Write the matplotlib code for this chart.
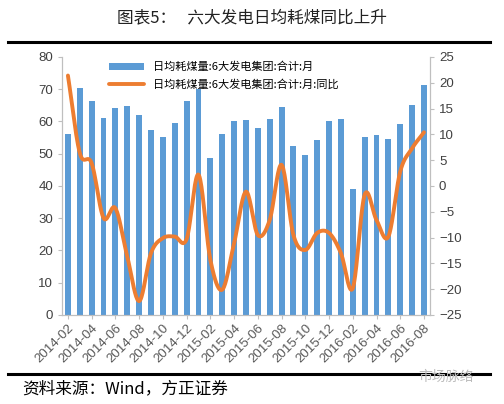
import matplotlib
matplotlib.use('Agg')
from matplotlib import pyplot as plt
import numpy as np

plt.rcParams['font.family'] = ['Noto Sans CJK SC', 'DejaVu Sans']

months = ['2014-02', '2014-03', '2014-04', '2014-05', '2014-06', '2014-07', '2014-08',
          '2014-09', '2014-10', '2014-11', '2014-12', '2015-01', '2015-02', '2015-03',
          '2015-04', '2015-05', '2015-06', '2015-07', '2015-08', '2015-09', '2015-10',
          '2015-11', '2015-12', '2016-01', '2016-02', '2016-03', '2016-04', '2016-05',
          '2016-06', '2016-07', '2016-08']
coal = [56.2, 70.5, 66.3, 61.0, 64.3, 64.7, 61.9, 57.4, 55.1, 59.5, 66.3, 70.0, 48.7,
        56.1, 60.0, 60.5, 58.1, 60.8, 64.6, 52.4, 49.5, 54.3, 60.2, 60.8, 39.2, 55.2,
        55.9, 54.6, 59.3, 65.1, 71.4]
yoy = [21.4, 6.4, 4.4, -6.2, -4.3, -13.7, -22.3, -13.0, -10.1, -9.8, -10.3, 2.2, -14.3,
       -20.1, -11.1, -1.1, -9.5, -6.6, 4.1, -9.5, -12.4, -9.1, -9.1, -13.0, -19.8, -1.7,
       -6.6, -9.8, 2.8, 7.3, 10.4]

label_bar = '日均耗煤量:6大发电集团:合计:月'
label_line = '日均耗煤量:6大发电集团:合计:月:同比'


def smooth(x, y, n=20):
    # catmull-rom curve through the points, just for drawing like excel
    x = np.asarray(x, float)
    y = np.asarray(y, float)
    px = np.concatenate([[2 * x[0] - x[1]], x, [2 * x[-1] - x[-2]]])
    py = np.concatenate([[2 * y[0] - y[1]], y, [2 * y[-1] - y[-2]]])
    xs, ys = [], []
    t = np.linspace(0, 1, n, endpoint=False)
    for i in range(1, len(px) - 2):
        for p, out in ((px, xs), (py, ys)):
            p0, p1, p2, p3 = p[i - 1], p[i], p[i + 1], p[i + 2]
            out.extend(0.5 * (2 * p1 + (-p0 + p2) * t + (2 * p0 - 5 * p1 + 4 * p2 - p3) * t ** 2
                              + (-p0 + 3 * p1 - 3 * p2 + p3) * t ** 3))
    xs.append(x[-1])
    ys.append(y[-1])
    return xs, ys


fig = plt.figure(figsize=(5.04, 4.04), dpi=100)
ax = fig.add_axes([0.123, 0.2203, 0.730, 0.6387])
ax2 = ax.twinx()

x = np.arange(len(months))
b = ax.bar(x, coal, width=0.5, color='#5B9BD5', label=label_bar, zorder=2)
sx, sy = smooth(x, yoy)
l, = ax2.plot(sx, sy, color='#ED7D31', lw=2.8, label=label_line, solid_capstyle='round')

ax.set_xlim(-0.5, len(months) - 0.5)
ax.set_ylim(0, 80)
ax.set_yticks(range(0, 81, 10))
ax2.set_ylim(-25, 25)
ax2.set_yticks(range(-25, 26, 5))
ax2.set_yticklabels([str(v).replace('-', '\u2212') for v in range(-25, 26, 5)])

ax.set_xticks(x[::2])
ax.set_xticklabels(months[::2], rotation=45, ha='right', rotation_mode='anchor')

gray = '#BFBFBF'
for a in (ax, ax2):
    a.spines['top'].set_visible(False)
    for s in ('left', 'right', 'bottom'):
        a.spines[s].set_color(gray)
    a.tick_params(colors=gray, labelcolor='#404040', labelsize=9.5, length=3)
    for t in a.get_yticklabels() + a.get_xticklabels():
        t.set_family(['Liberation Sans', 'DejaVu Sans'])
ax.tick_params(axis='x', labelsize=9.5, pad=2, labelcolor='#595959')

ax2.legend([b, l], [label_bar, label_line], loc='upper left', bbox_to_anchor=(0.1, 1.02),
           frameon=False, fontsize=8, handlelength=3.2, labelspacing=0.6)

fig.text(0.5, 0.955, '图表5：   六大发电日均耗煤同比上升', ha='center', va='center',
         fontsize=12, color='#222222')
fig.add_artist(plt.Line2D([0.016, 0.972], [0.897, 0.897], color='black', lw=2.2))
fig.add_artist(plt.Line2D([0.016, 0.972], [0.074, 0.074], color='black', lw=2.2))
fig.text(0.044, 0.037, '资料来源：Wind，方正证券', ha='left', va='center', fontsize=12,
         style='italic')
fig.text(0.94, 0.066, '市场脉络', ha='right', va='center', fontsize=10, color='#BBBBBB')

fig.savefig('out.png', dpi=100)
